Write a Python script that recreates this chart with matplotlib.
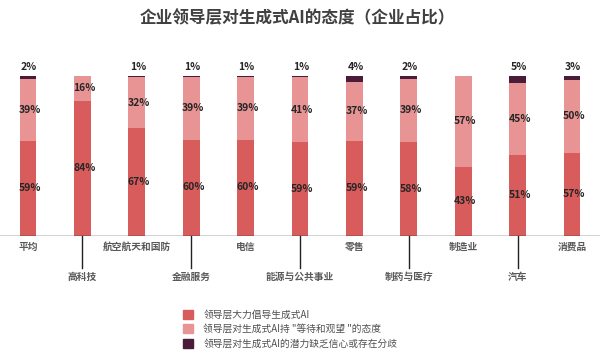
import matplotlib.pyplot as plt
from matplotlib.patches import Patch

plt.rcParams['font.family'] = ['Noto Sans CJK SC', 'DejaVu Sans']

categories = ['平均', '高科技', '航空航天和国防', '金融服务', '电信', '能源与公共事业',
              '零售', '制药与医疗', '制造业', '汽车', '消费品']
support = [59, 84, 67, 60, 60, 59, 59, 58, 43, 51, 57]
wait_see = [39, 16, 32, 39, 39, 41, 37, 39, 57, 45, 50]
doubt = [2, 0, 1, 1, 1, 1, 4, 2, 0, 5, 3]
series_names = ['领导层大力倡导生成式AI', '领导层对生成式AI持 "等待和观望 "的态度',
                '领导层对生成式AI的潜力缺乏信心或存在分歧']

c_red = '#D95C5C'
c_pink = '#E89494'
c_dark = '#4B1B3A'
txt = '#262626'

fig = plt.figure(figsize=(6, 3.54), dpi=100)
ax = fig.add_axes([0, (354 - 235.5) / 354, 1, 160 / 354])

x = list(range(len(categories)))
w = 0.31
# stacked to 100%
tot = [a + b + c for a, b, c in zip(support, wait_see, doubt)]
h1 = [a / t * 100 for a, t in zip(support, tot)]
h2 = [b / t * 100 for b, t in zip(wait_see, tot)]
h3 = [c / t * 100 for c, t in zip(doubt, tot)]
b2 = [a + b for a, b in zip(h1, h2)]

ax.bar(x, h1, w, color=c_red)
ax.bar(x, h2, w, bottom=h1, color=c_pink)
ax.bar(x, h3, w, bottom=b2, color=c_dark)

for i in x:
    ax.text(i + 0.04, h1[i] / 2, f'{support[i]}%', ha='center', va='center',
            fontsize=7.5, fontweight='bold', color=txt)
    ax.text(i + 0.04, h1[i] + h2[i] / 2, f'{wait_see[i]}%', ha='center', va='center',
            fontsize=7.5, fontweight='bold', color=txt)
    if doubt[i] > 0:
        ax.text(i + 0.02, 100 + 2, f'{doubt[i]}%', ha='center', va='bottom',
                fontsize=7.5, fontweight='bold', color=txt, clip_on=False)

ax.set_xlim(-0.515, 10.515)
ax.set_ylim(0, 100)
ax.axhline(0, color='#222222', lw=1)
for s in ax.spines.values():
    s.set_visible(False)
ax.set_xticks([])
ax.set_yticks([])

# alternating category labels, odd ones with leader line
for i, name in enumerate(categories):
    if i % 2 == 0:
        ax.text(i, -7, name, ha='center', va='center', fontsize=7,
                fontweight='bold', color='#595959', clip_on=False)
    else:
        ax.plot([i, i], [0, -20.5], color='#222222', lw=1, clip_on=False)
        ax.text(i, -26, name, ha='center', va='center', fontsize=7,
                fontweight='bold', color='#595959', clip_on=False)

fig.text(0.495, 1 - 18 / 354, '企业领导层对生成式AI的态度（企业占比）', ha='center', va='center',
         fontsize=12, fontweight='bold', color='#404040')

handles = [Patch(color=c_red), Patch(color=c_pink), Patch(color=c_dark)]
fig.legend(handles, series_names, loc='upper left', bbox_to_anchor=(0.29, 1 - 301 / 354),
           frameon=False, fontsize=7, handlelength=1.1, handleheight=1.1,
           labelspacing=0.45, handletextpad=1.0, labelcolor='#505050')

fig.savefig('out.png', dpi=100)
